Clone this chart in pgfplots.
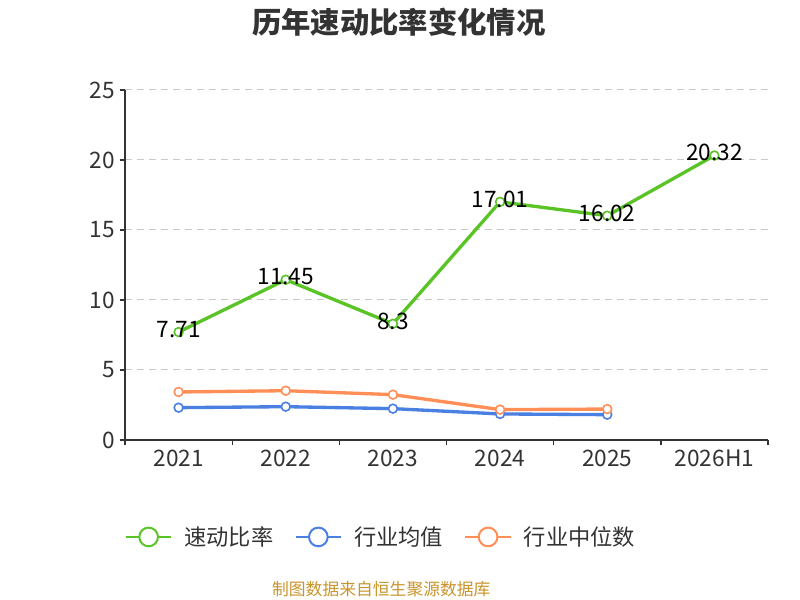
\documentclass[border=0pt]{standalone}
\usepackage{fontspec}
\setmainfont{Noto Sans CJK SC}
\usepackage{pgfplots}
\pgfplotsset{compat=1.18}
\definecolor{cgreen}{HTML}{5AC427}
\definecolor{cblue}{HTML}{4A80E2}
\definecolor{corange}{HTML}{FF8F57}
\definecolor{ctext}{HTML}{333333}
\definecolor{cgrid}{HTML}{C8C8C8}
\definecolor{csrc}{HTML}{C8942C}
\begin{document}
\begin{tikzpicture}
\path[use as bounding box] (0,0) rectangle (600pt,450pt);
\node[font=\fontsize{22}{26}\selectfont\bfseries, text=ctext] at (299pt,433pt) {历年速动比率变化情况};
\begin{axis}[
  at={(93.75pt,120pt)}, anchor=south west,
  scale only axis, width=482.25pt, height=262.5pt,
  xmin=-0.5, xmax=5.5, ymin=0, ymax=25,
  axis lines=left, axis line style={-, ctext, line width=1pt},
  xtick={-0.5,0.5,...,5.5}, x tick label as interval,
  xticklabels={2021,2022,2023,2024,2025,2026H1},
  ytick={0,5,...,25},
  tick align=outside,
  major tick length=4pt,
  tick style={ctext, line width=1pt},
  ymajorgrids, grid style={dash pattern=on 5pt off 4pt, cgrid, line width=0.75pt},
  tick label style={font=\fontsize{17}{20}\selectfont, text=ctext},
  /pgf/number format/assume math mode=true,
  legend style={at={(0.3987,-0.277)}, anchor=center, draw=none, fill=none,
    legend columns=-1, font=\fontsize{16.7}{20}\selectfont, text=ctext,
    /tikz/every odd column/.append style={column sep=7pt},
    /tikz/every even column/.append style={column sep=14pt}},
  legend image code/.code={\draw[line width=1.5pt] (0pt,0pt)--(34pt,0pt);
    \draw[line width=1.5pt, fill=white] (17pt,0pt) circle (7pt);},
]
\addplot[cgreen, line width=2.5pt, mark=*, mark size=3.3pt, mark options={fill=white, line width=1.2pt},
  nodes near coords,
  every node near coord/.append style={anchor=center, yshift=2pt, text=black, font=\fontsize{17}{20}\selectfont}]
  coordinates {(0,7.71)(1,11.45)(2,8.3)(3,17.01)(4,16.02)(5,20.32)};
\addlegendentry{速动比率}
\addplot[cblue, line width=2.5pt, mark=*, mark size=3.3pt, mark options={fill=white, line width=1.2pt}]
  coordinates {(0,2.31)(1,2.38)(2,2.24)(3,1.86)(4,1.81)};
\addlegendentry{行业均值}
\addplot[corange, line width=2.5pt, mark=*, mark size=3.3pt, mark options={fill=white, line width=1.2pt}]
  coordinates {(0,3.43)(1,3.52)(2,3.24)(3,2.17)(4,2.21)};
\addlegendentry{行业中位数}
\end{axis}
\node[font=\fontsize{12.6}{15}\selectfont, text=csrc] at (286pt,8pt) {制图数据来自恒生聚源数据库};
\end{tikzpicture}
\end{document}
